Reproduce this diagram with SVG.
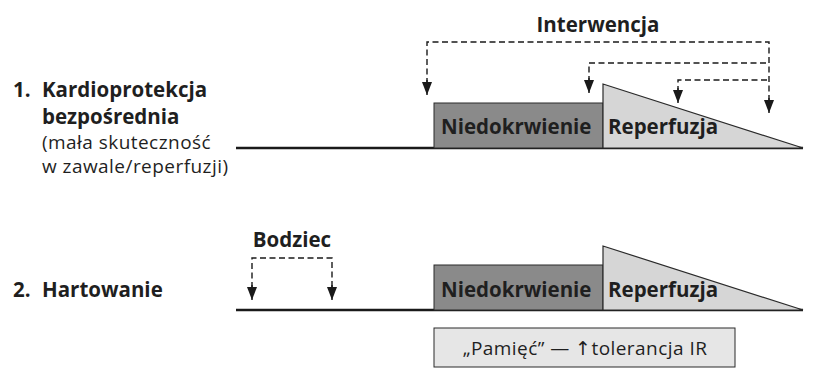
<svg xmlns="http://www.w3.org/2000/svg" width="815" height="370" viewBox="0 0 815 370">
<defs>
<marker id="ah" markerWidth="13" markerHeight="10" refX="13" refY="5" orient="auto" markerUnits="userSpaceOnUse" viewBox="0 0 13 10">
<path d="M0,0 L13,5 L0,10 Z" fill="#1a1a1a"/>
</marker>
<style>
text{font-family:"Open Sans","Liberation Sans",sans-serif;fill:#1f1f1f}
.b{font-weight:bold;font-size:20.5px}
.r{font-size:19px;letter-spacing:0.45px}
.axis{stroke:#1a1a1a;stroke-width:2.5;fill:none}
.isch{fill:#8a8a8a;stroke:#2a2a2a;stroke-width:1}
.rep{fill:#d6d6d6;stroke:#2a2a2a;stroke-width:1.2}
.dash{stroke:#1a1a1a;stroke-width:1.4;fill:none;stroke-dasharray:6,3.5}
.arr{stroke:#1a1a1a;stroke-width:1.4;fill:none;marker-end:url(#ah)}
</style>
</defs>
<rect width="815" height="370" fill="#ffffff"/>

<g id="label1">
<text class="b" x="13" y="97">1.</text>
<text class="b" x="42" y="97">Kardioprotekcja</text>
<text class="b" x="42" y="124">bezpośrednia</text>
<text class="r" x="42" y="149">(mała skuteczność</text>
<text class="r" x="42" y="173">w zawale/reperfuzji)</text>
</g>

<g id="label2">
<text class="b" x="13" y="297">2.</text>
<text class="b" x="42" y="297">Hartowanie</text>
</g>

<g id="timeline1">
<line class="axis" x1="236" y1="148" x2="803" y2="148"/>
<rect id="isch1" class="isch" x="434" y="103" width="169" height="45"/>
<polygon id="rep1" class="rep" points="603,84 803,148 603,148"/>
<text class="b" x="441" y="134">Niedokrwienie</text>
<text class="b" x="608" y="134">Reperfuzja</text>
</g>

<g id="timeline2">
<line class="axis" x1="236" y1="310" x2="803" y2="310"/>
<rect id="isch2" class="isch" x="434" y="265" width="169" height="45"/>
<polygon id="rep2" class="rep" points="603,246 803,310 603,310"/>
<text class="b" x="441" y="297">Niedokrwienie</text>
<text class="b" x="608" y="297">Reperfuzja</text>
</g>

<g id="interwencja">
<text class="b" x="598" y="32" text-anchor="middle">Interwencja</text>
</g>

<g id="bodziec">
<text class="b" x="292" y="247" text-anchor="middle">Bodziec</text>
</g>

<g id="pamiec">
<rect x="434" y="328" width="301" height="39" fill="#e6e6e6" stroke="#2a2a2a" stroke-width="1"/>
<text class="r" x="585" y="355" text-anchor="middle">„Pamięć” — <tspan font-family="DejaVu Sans" fill="#1f1f1f">↑</tspan>tolerancja IR</text>
</g>

<g id="connectors">
<path class="dash" d="M427,84 V42 H769 V100"/>
<path class="dash" d="M589,82 V63 H769"/>
<path class="dash" d="M678,92 V80 H769"/>
<line class="arr" x1="427" y1="80" x2="427" y2="95"/>
<line class="arr" x1="769" y1="98" x2="769" y2="113"/>
<line class="arr" x1="589" y1="78" x2="589" y2="93"/>
<line class="arr" x1="678" y1="88" x2="678" y2="103"/>
<path class="dash" d="M252,288 V258 H332 V288"/>
<line class="arr" x1="252" y1="285" x2="252" y2="300"/>
<line class="arr" x1="332" y1="285" x2="332" y2="300"/>
</g>
</svg>
